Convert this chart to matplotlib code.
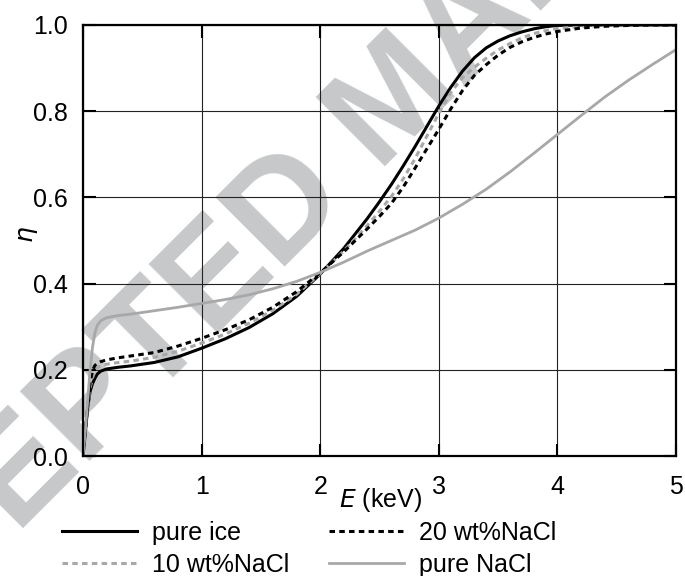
import matplotlib
matplotlib.use("Agg")
from matplotlib import pyplot as plt

# energy grid (keV) shared by the three ice curves
E = [0, 0.02, 0.04, 0.06, 0.08, 0.1, 0.12, 0.15, 0.2, 0.3, 0.4, 0.6, 0.8, 1.0, 1.2, 1.4,
     1.6, 1.8, 2.0, 2.2, 2.4, 2.5, 2.6, 2.7, 2.8, 3.0, 3.1, 3.2, 3.3, 3.4, 3.5, 3.6, 3.7,
     3.8, 3.9, 4.0, 4.2, 4.4, 4.6, 4.8, 5.0]
pure_ice = [0, 0.055, 0.114, 0.15, 0.168, 0.18, 0.19, 0.197, 0.202, 0.206, 0.209, 0.217,
            0.23, 0.25, 0.272, 0.298, 0.33, 0.37, 0.422, 0.482, 0.552, 0.59, 0.63, 0.673,
            0.718, 0.812, 0.855, 0.893, 0.924, 0.947, 0.963, 0.975, 0.984, 0.991, 0.996,
            0.999, 1.0, 1.0, 1.0, 1.0, 1.0]
nacl_10 = [0, 0.055, 0.115, 0.158, 0.182, 0.196, 0.204, 0.21, 0.213, 0.217, 0.22, 0.229,
           0.243, 0.262, 0.283, 0.308, 0.338, 0.375, 0.423, 0.476, 0.536, 0.568, 0.602,
           0.643, 0.69, 0.795, 0.843, 0.878, 0.902, 0.923, 0.942, 0.957, 0.97, 0.98, 0.987,
           0.992, 0.997, 0.999, 1.0, 1.0, 1.0]
nacl_20 = [0, 0.055, 0.12, 0.17, 0.198, 0.21, 0.215, 0.219, 0.223, 0.228, 0.232, 0.24,
           0.255, 0.273, 0.293, 0.316, 0.345, 0.381, 0.425, 0.474, 0.528, 0.556, 0.586,
           0.624, 0.668, 0.758, 0.805, 0.848, 0.883, 0.908, 0.93, 0.948, 0.961, 0.971,
           0.979, 0.985, 0.993, 0.997, 0.999, 1.0, 1.0]

E_nacl = [0, 0.02, 0.04, 0.06, 0.08, 0.1, 0.12, 0.15, 0.2, 0.3, 0.4, 0.6, 0.8, 1.0, 1.2,
          1.4, 1.6, 1.8, 2.0, 2.2, 2.4, 2.6, 2.8, 3.0, 3.2, 3.4, 3.6, 3.8, 4.0, 4.2, 4.4,
          4.6, 4.8, 5.0]
pure_nacl = [0, 0.06, 0.13, 0.2, 0.252, 0.285, 0.303, 0.314, 0.321, 0.326, 0.329, 0.337,
             0.345, 0.354, 0.363, 0.374, 0.388, 0.405, 0.426, 0.45, 0.476, 0.5, 0.524,
             0.552, 0.584, 0.619, 0.659, 0.702, 0.746, 0.79, 0.833, 0.872, 0.908, 0.943]

xticks = [0, 1, 2, 3, 4, 5]
yticks = [0.0, 0.2, 0.4, 0.6, 0.8, 1.0]

plt.rcParams["font.family"] = ["Liberation Sans", "DejaVu Sans"]
plt.rcParams["mathtext.fontset"] = "dejavusans"

fig = plt.figure(figsize=(6.85, 5.76), dpi=100)
ax = fig.add_axes([83 / 685, 1 - 456 / 576, 593 / 685, 431 / 576])
ax.set_facecolor("none")

# watermark behind the axes
fig.text(397 / 685, 1 - 102 / 576, "ACCEPTED MANUSCRIPT", rotation=45, fontsize=102,
         fontweight="bold", color="#c6c8c9", ha="center", va="center", zorder=-5,
         rotation_mode="anchor")

ax.plot(E, pure_ice, color="black", lw=2.2, label="pure ice")
ax.plot(E, nacl_10, color="#a8a8a8", lw=2.2, ls=(0, (1.8, 1.4)), label="10 wt%NaCl")
ax.plot(E, nacl_20, color="black", lw=2.2, ls=(0, (1.8, 1.4)), label="20 wt%NaCl")
ax.plot(E_nacl, pure_nacl, color="#a8a8a8", lw=2.0, label="pure NaCl")

ax.set_xlim(0, 5)
ax.set_ylim(0, 1)
ax.set_xticks(xticks)
ax.set_yticks(yticks)
ax.set_yticklabels(["%.1f" % v for v in yticks])
ax.grid(True, color="#222222", lw=0.8)
ax.tick_params(direction="in", length=9, width=1.5, top=True, right=True, labelsize=18)
ax.tick_params(axis="x", pad=14)
ax.tick_params(axis="y", pad=11)
for s in ax.spines.values():
    s.set_linewidth(1.6)

ax.set_xlabel("$E$ (keV)", fontsize=18)
ax.xaxis.set_label_coords(0.502, -0.07)
ax.set_ylabel(r"$\eta$", fontsize=18)
ax.yaxis.set_label_coords(-0.072, 0.514)

ax.legend(loc="upper left", bbox_to_anchor=(-0.035, -0.15), ncol=2, frameon=False,
          fontsize=18, handlelength=3.0, columnspacing=1.6, labelspacing=0.32,
          borderpad=0, borderaxespad=0, handletextpad=0.6)

fig.savefig("out.png", dpi=100)
